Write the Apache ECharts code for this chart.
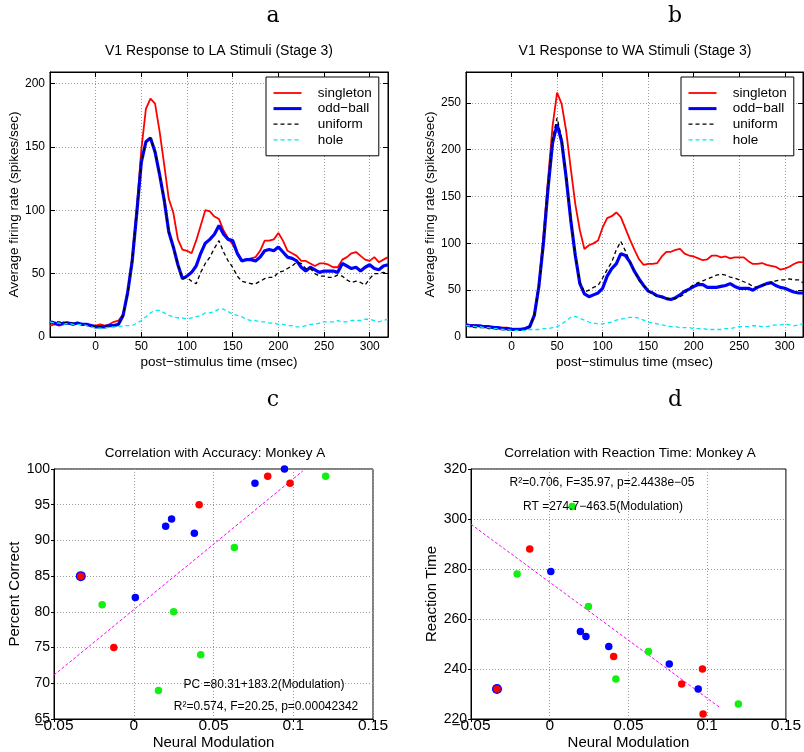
<!DOCTYPE html>
<html>
<head>
<meta charset="utf-8">
<script src="https://cdn.jsdelivr.net/npm/echarts@6/dist/echarts.min.js"></script>
<style>
html,body{margin:0;padding:0;background:#fff;}
#chart{width:804px;height:752px;}
</style>
</head>
<body>
<div id="chart"></div>
<script>
// ---------- Data ----------
const time = [-50,-45,-40,-35,-30,-25,-20,-15,-10,-5,0,5,10,15,20,25,30,35,40,45,50,55,60,65,70,75,80,85,90,95,100,105,110,115,120,125,130,135,140,145,150,155,160,165,170,175,180,185,190,195,200,205,210,215,220,225,230,235,240,245,250,255,260,265,270,275,280,285,290,295,300,305,310,315,320];
const seriesNames = ['singleton', 'odd\u2212ball', 'uniform', 'hole'];

// Panel a: V1 Response to LA Stimuli
const aSingleton = [9,10,9,10,11,10,11,10,10,9, 9,10,9,10,12,13,18,34,63,101, 148,180,188,184,162,136,109,98,77,69, 68,66,76,88,100,99,95,93,84,78, 73,66,60,61,62,63,68,76,76,77, 82,76,68,66,64,60,60,58,56,58, 58,57,55,55,61,63,66,67,64,61, 60,63,59,61,63];
const aOddball = [12,11,10,11,11,10,11,10,10,9, 8,8,8,9,9,10,17,35,60,98, 138,154,157,146,128,108,83,71,57,46, 48,51,56,66,74,77,81,88,81,77, 76,66,60,61,61,60,63,68,69,68, 71,67,63,62,60,55,52,55,53,51, 52,52,52,51,58,56,54,55,52,55, 57,54,53,56,57];
const aUniform = [12,12,12,11,12,11,11,10,9,9, 8,8,8,9,9,10,17,34,60,98, 138,154,157,146,128,108,83,71,57,46, 47,44,42,51,58,63,70,76,67,60, 55,48,44,43,42,42,44,46,47,47, 51,52,54,56,59,58,54,54,50,48, 48,47,47,49,48,45,43,44,43,41, 46,50,50,51,50];
const aHole = [12,11,11,10,11,10,10,10,9,8, 7,7,7,8,8,8,9,9,9,11, 13,16,19,21,21,19,17,16,15,15, 14,15,16,17,19,19,20,22,22,20, 18,17,16,14,13,13,12,12,11,11, 10,10,9,9,8,8,9,10,10,11, 12,12,12,13,12,12,13,13,13,14, 14,13,12,13,14];

// Panel b: V1 Response to WA Stimuli
const bSingleton = [13,13,13,12,11,11,11,10,10,10, 9,9,9,9,12,24,56,108,167,225, 261,249,220,180,142,114,94,98,100,103, 117,127,129,133,128,116,104,93,83,77, 78,78,79,86,91,91,93,94,89,87, 86,84,82,83,87,87,85,86,84,85, 85,85,81,78,78,79,77,76,75,72, 73,75,78,80,80];
const bOddball = [13,12,12,12,11,11,10,10,9,9, 8,8,8,9,11,23,54,100,158,207, 227,209,170,125,87,57,46,43,45,47, 52,65,73,78,89,87,80,70,62,55, 49,47,44,43,41,40,42,45,49,51, 54,56,56,53,53,53,54,55,57,54, 52,52,52,50,53,55,57,58,55,53, 52,50,48,47,47];
const bUniform = [12,11,10,10,10,9,9,8,8,7, 7,7,7,8,11,23,53,100,160,212, 234,212,172,127,87,59,48,50,53,55, 63,72,80,93,102,92,80,70,60,55, 49,46,43,42,41,41,41,43,46,52, 56,58,60,62,64,66,67,66,64,63, 61,59,57,54,53,55,56,58,60,61, 61,62,61,61,58];
const bHole = [12,12,11,11,10,10,9,9,8,8, 7,7,7,7,8,8,8,9,9,10, 11,14,17,21,22,20,18,16,15,14, 14,15,16,18,19,20,21,21,20,18, 16,15,14,13,12,11,11,10,10,10, 9,9,9,8,8,8,8,9,9,10, 11,11,11,12,12,11,11,12,13,13, 14,13,12,13,14];

// Panel c: Correlation with Accuracy
const cBlueX  = [0.0945, 0.076, 0.0237, 0.020, 0.038, -0.0332, 0.001];
const cBlueY  = [100, 98, 93, 92, 91, 85, 82];
const cRedX   = [0.084, 0.098, 0.041, -0.0332, -0.0125];
const cRedY   = [99, 98, 95, 85, 75];
const cGreenX = [0.1203, 0.0631, -0.0198, 0.025, 0.042, 0.0155];
const cGreenY = [99, 89, 81, 80, 74, 69];
const cFitX = [-0.05, 0.106];
const cFitY = [71.15, 99.73];

// Panel d: Correlation with Reaction Time
const dBlueX  = [0.0007, 0.0195, 0.023, 0.0375, 0.0759, 0.0943, -0.0335];
const dBlueY  = [279, 255, 253, 249, 242, 232, 232];
const dRedX   = [-0.0127, 0.0406, 0.097, 0.0838, 0.0974, -0.0335];
const dRedY   = [288, 245, 240, 234, 222, 232];
const dGreenX = [0.0143, -0.0207, 0.0246, 0.0627, 0.042, 0.1198];
const dGreenY = [305, 278, 265, 247, 236, 226];
const dFitX = [-0.05, 0.108];
const dFitY = [297.9, 224.6];

// ---------- Helpers ----------
const FONT = '"Liberation Sans", Arial, Helvetica, sans-serif';
const zip = (xs, ys) => xs.map((x, i) => [x, ys[i]]);
const minus = v => String(v).replace('-', '\u2212');

const colors = ['#ff0000', '#0000ff', '#000000', '#00e8f2'];
const widths = [1.8, 3.2, 1.3, 1.3];
const types = ['solid', 'solid', [4, 3], [4, 3]];

function lineSeries(gi, arrs) {
  return arrs.map((arr, k) => ({
    name: seriesNames[k], type: 'line', xAxisIndex: gi, yAxisIndex: gi,
    data: zip(time, arr), symbol: 'none', showSymbol: false, animation: false,
    lineStyle: { color: colors[k], width: widths[k], type: types[k] },
    itemStyle: { color: colors[k] }, z: 2 + k
  }));
}

function coincide(xs, ys) {
  return (val) => xs.some((x, i) => x === val[0] && ys[i] === val[1]) ? 10 : 7.5;
}

function scatter(gi, xs, ys, color, sizeFn) {
  return {
    type: 'scatter', xAxisIndex: gi, yAxisIndex: gi, data: zip(xs, ys),
    symbol: 'circle', symbolSize: sizeFn || 7.5, animation: false,
    itemStyle: { color: color, opacity: 1 }, z: 3
  };
}

function fitLine(gi, xs, ys) {
  return {
    type: 'line', xAxisIndex: gi, yAxisIndex: gi, data: zip(xs, ys),
    symbol: 'none', animation: false, z: 2,
    lineStyle: { color: '#ff00ff', width: 1, type: [3, 2] }
  };
}

const splitDotted = { show: true, lineStyle: { color: '#9a9a9a', type: [1, 2], width: 1 } };
const blackLine = { show: true, onZero: false, lineStyle: { color: '#000', width: 1 } };

function xTime(gi, name) {
  return {
    gridIndex: gi, type: 'value', min: -50, max: 320, interval: 50,
    axisLine: blackLine, axisTick: { show: true, inside: true, length: 5, lineStyle: { color: '#000' } },
    axisLabel: { color: '#000', fontSize: 12, fontFamily: FONT, margin: 4, showMinLabel: false, showMaxLabel: false },
    splitLine: splitDotted,
    name: name, nameLocation: 'middle', nameGap: 18,
    nameTextStyle: { color: '#000', fontSize: 13.5, fontFamily: FONT }
  };
}
function xTop(gi, min, max, interval) {
  return {
    gridIndex: gi, type: 'value', position: 'top', min: min, max: max, interval: interval,
    axisLine: blackLine, axisTick: { show: true, inside: true, length: 5, lineStyle: { color: '#000' } },
    axisLabel: { show: false }, splitLine: { show: false }
  };
}
function yRight(gi, min, max, interval) {
  return {
    gridIndex: gi, type: 'value', position: 'right', min: min, max: max, interval: interval,
    axisLine: blackLine, axisTick: { show: true, inside: true, length: 5, lineStyle: { color: '#000' } },
    axisLabel: { show: false }, splitLine: { show: false }
  };
}
function yRate(gi, max, gap) {
  return {
    gridIndex: gi, type: 'value', min: 0, max: max, interval: 50,
    axisLine: blackLine, axisTick: { show: true, inside: true, length: 5, lineStyle: { color: '#000' } },
    axisLabel: { color: '#000', fontSize: 12, fontFamily: FONT, margin: 5, showMaxLabel: false },
    splitLine: splitDotted,
    name: 'Average firing rate (spikes/sec)', nameLocation: 'middle', nameGap: gap, nameRotate: 90,
    nameTextStyle: { color: '#000', fontSize: 13.5, fontFamily: FONT }
  };
}
function xMod(gi) {
  return {
    gridIndex: gi, type: 'value', min: -0.05, max: 0.15, interval: 0.05,
    axisLine: blackLine, axisTick: { show: true, inside: false, length: 3, lineStyle: { color: '#000' } },
    axisLabel: { color: '#000', fontSize: 15.5, fontFamily: FONT, margin: -1, formatter: minus },
    splitLine: splitDotted,
    name: 'Neural Modulation', nameLocation: 'middle', nameGap: 16,
    nameTextStyle: { color: '#000', fontSize: 15, fontFamily: FONT }
  };
}
function yScat(gi, min, max, interval, name) {
  return {
    gridIndex: gi, type: 'value', min: min, max: max, interval: interval,
    axisLine: blackLine, axisTick: { show: true, inside: false, length: 3, lineStyle: { color: '#000' } },
    axisLabel: { color: '#000', fontSize: 14, fontFamily: FONT, margin: 4 },
    splitLine: splitDotted,
    name: name, nameLocation: 'middle', nameGap: 28, nameRotate: 90,
    nameTextStyle: { color: '#000', fontSize: 15, fontFamily: FONT }
  };
}

function legendAt(left, top) {
  return {
    data: seriesNames.map((n, k) => ({ name: n, lineStyle: { width: Math.min(widths[k], 3) } })),
    orient: 'vertical', left: left, top: top,
    itemWidth: 28, itemHeight: 14, itemGap: 1.6,
    padding: [9, 7, 9, 6], backgroundColor: '#fff', borderColor: '#000', borderWidth: 1,
    borderRadius: 0, selectedMode: false,
    itemStyle: { opacity: 0 },
    formatter: n => '   ' + n,
    textStyle: { color: '#000', fontSize: 13.5, fontFamily: FONT }
  };
}

function txt(x, y, s, size, family) {
  return {
    type: 'text', x: x, y: y, z: 100,
    style: { text: s, fill: '#000', font: size + 'px ' + (family || FONT),
      align: 'center', verticalAlign: 'middle', textAlign: 'center', textVerticalAlign: 'middle' }
  };
}
const SERIF = '"DejaVu Serif", "Liberation Serif", serif';

const chart = echarts.init(document.getElementById('chart'), null, { renderer: 'canvas' });
chart.setOption({
  animation: false,
  backgroundColor: '#fff',
  grid: [
    { left: 50, top: 72, width: 338, height: 265, show: true, borderColor: '#000', borderWidth: 1 },
    { left: 466, top: 72, width: 337, height: 265, show: true, borderColor: '#000', borderWidth: 1 },
    { left: 54, top: 469, width: 319, height: 250, show: true, borderColor: '#000', borderWidth: 1 },
    { left: 471, top: 469, width: 318, height: 250, show: true, borderColor: '#000', borderWidth: 1 }
  ],
  xAxis: [
    xTime(0, 'post\u2212stimulus time (msec)'),
    xTime(1, 'post\u2212stimulus time (msec)'),
    xMod(2), xMod(3),
    xTop(0, -50, 320, 50), xTop(1, -50, 320, 50)
  ],
  yAxis: [
    yRate(0, 209, 21), yRate(1, 283, 24),
    yScat(2, 65, 100, 5, 'Percent Correct'),
    yScat(3, 220, 320, 20, 'Reaction Time'),
    yRight(0, 0, 209, 50), yRight(1, 0, 283, 50)
  ],
  legend: [legendAt(266, 77), legendAt(681, 77)],
  series: [].concat(
    lineSeries(0, [aSingleton, aOddball, aUniform, aHole]),
    lineSeries(1, [bSingleton, bOddball, bUniform, bHole]),
    [
      fitLine(2, cFitX, cFitY),
      scatter(2, cGreenX, cGreenY, '#12f012'),
      scatter(2, cBlueX, cBlueY, '#0000ff', coincide(cRedX, cRedY)),
      scatter(2, cRedX, cRedY, '#ff0000'),
      fitLine(3, dFitX, dFitY),
      scatter(3, dGreenX, dGreenY, '#12f012'),
      scatter(3, dBlueX, dBlueY, '#0000ff', coincide(dRedX, dRedY)),
      scatter(3, dRedX, dRedY, '#ff0000')
    ]
  ),
  graphic: [
    txt(273, 16, 'a', 22, SERIF),
    txt(675, 16, 'b', 22, SERIF),
    txt(273, 400, 'c', 22, SERIF),
    txt(675, 400, 'd', 22, SERIF),
    txt(219, 51, 'V1 Response to LA Stimuli (Stage 3)', 14),
    txt(635, 51, 'V1 Response to WA Stimuli (Stage 3)', 14),
    txt(215, 453, 'Correlation with Accuracy: Monkey A', 13.5),
    txt(630, 453, 'Correlation with Reaction Time: Monkey A', 13.5),
    txt(264, 685, 'PC =80.31+183.2(Modulation)', 12),
    txt(266, 707, 'R\u00b2=0.574, F=20.25, p=0.00042342', 12),
    txt(602, 483, 'R\u00b2=0.706, F=35.97, p=2.4438e\u221205', 12),
    txt(603, 507, 'RT =274.7\u2212463.5(Modulation)', 12)
  ]
});
</script>
</body>
</html>
